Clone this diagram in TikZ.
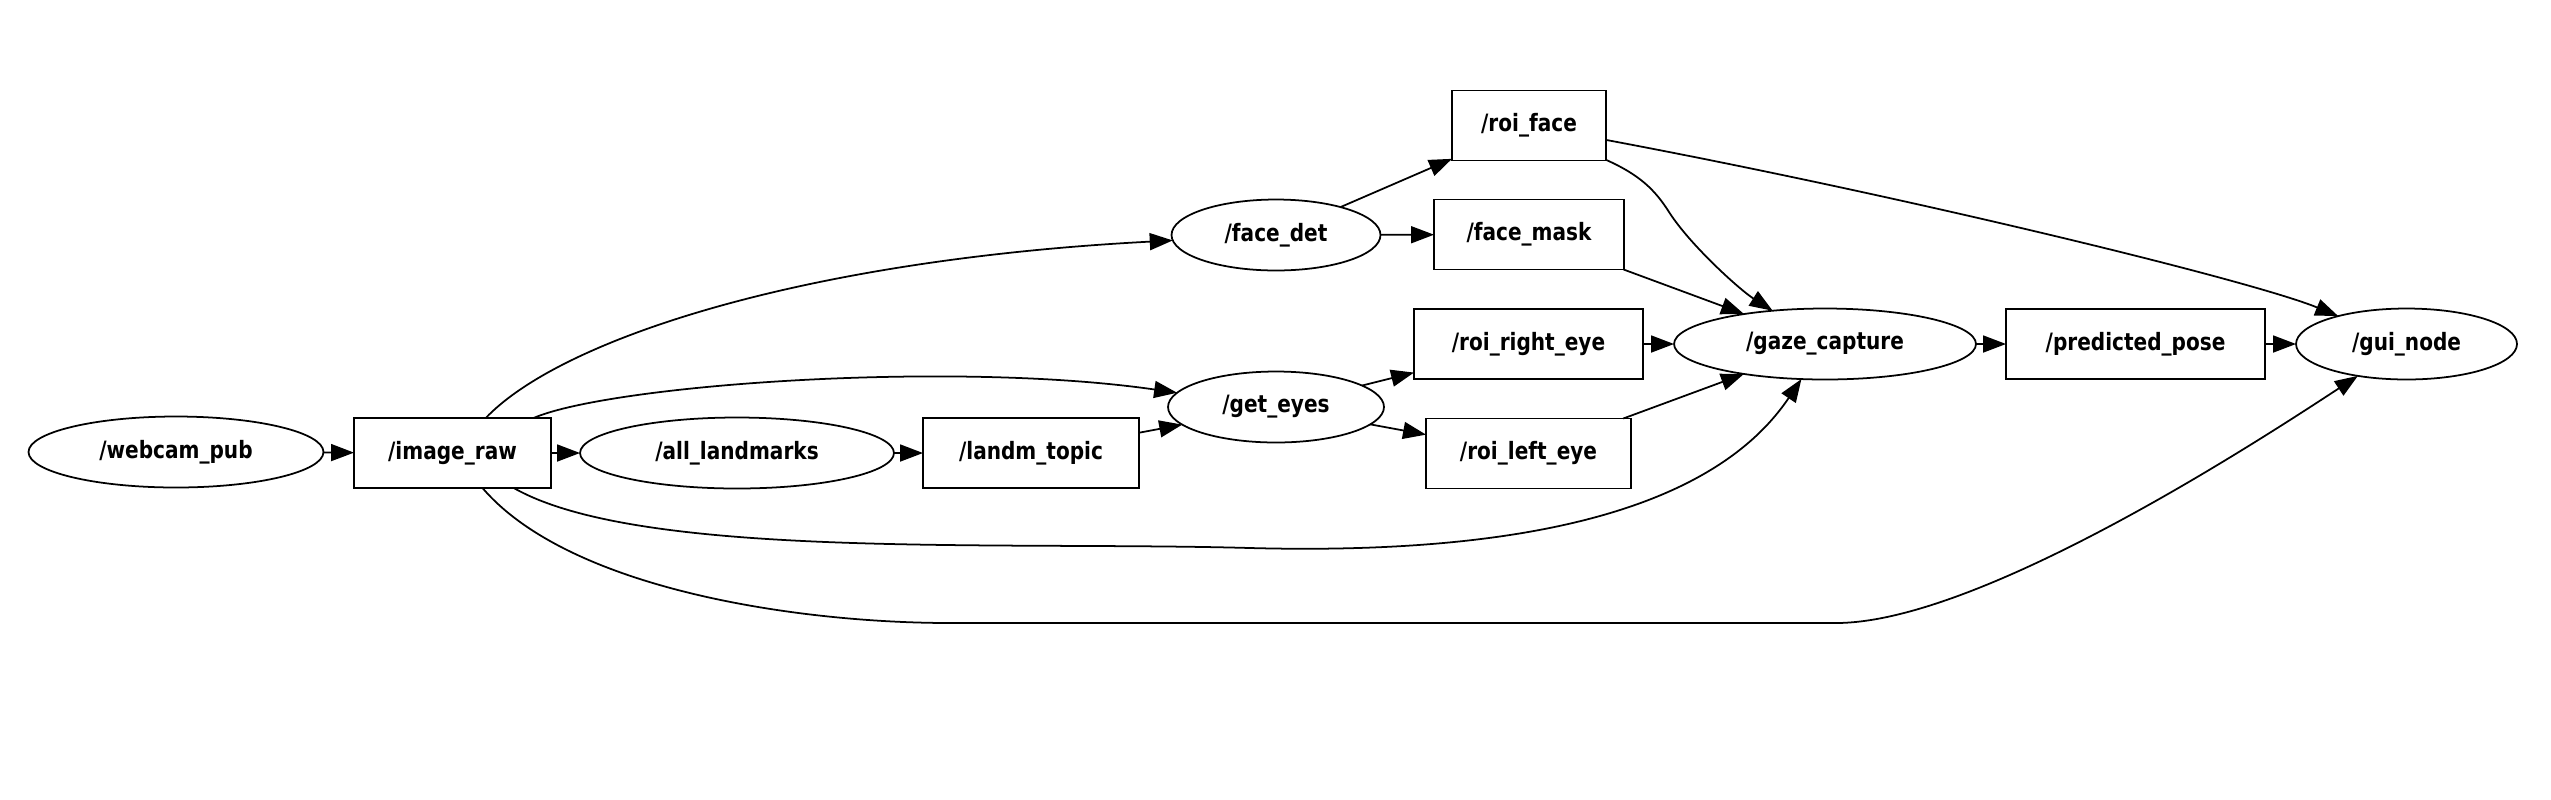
\documentclass[tikz,border=0pt]{standalone}
\usepackage{fontspec}
\setmainfont{DejaVu Sans}[FakeStretch=0.84]
\usepackage{tikz}
\usetikzlibrary{arrows.meta, positioning, shapes.geometric}

\begin{document}
\begin{tikzpicture}[
    x=0.02cm, y=-0.02cm,
    line width=1pt,
    rosnode/.style={draw, ellipse, inner sep=0pt, outer sep=0pt, minimum height=1.42cm, font=\fontsize{13.6}{16}\selectfont\bfseries},
    topic/.style={draw, rectangle, inner sep=0pt, outer sep=0pt, minimum height=1.4cm, font=\fontsize{13.6}{16}\selectfont\bfseries},
    >={Triangle[length=4.6mm, width=3.4mm]}
]
    \useasboundingbox (0,0) rectangle (2551,799);

    \node[rosnode, minimum width=5.9cm] (webcam) at (176,452) {/webcam\_pub};
    \node[topic, minimum width=3.94cm] (img) at (452.5,453) {/image\_raw};
    \node[rosnode, minimum width=6.28cm] (lmk) at (737,453) {/all\_landmarks};
    \node[topic, minimum width=4.32cm] (landm) at (1031,453) {/landm\_topic};
    \node[rosnode, minimum width=4.32cm] (eyes) at (1276,407) {/get\_eyes};
    \node[rosnode, minimum width=4.18cm] (facedet) at (1276,235) {/face\_det};
    \node[topic, minimum width=3.08cm] (roiface) at (1529,125.5) {/roi\_face};
    \node[topic, minimum width=3.8cm] (mask) at (1529,234.5) {/face\_mask};
    \node[topic, minimum width=4.58cm] (reye) at (1528.5,344) {/roi\_right\_eye};
    \node[topic, minimum width=4.1cm] (leye) at (1528.5,453.5) {/roi\_left\_eye};
    \node[rosnode, minimum width=6.04cm] (gaze) at (1825,344) {/gaze\_capture};
    \node[topic, minimum width=5.18cm] (pose) at (2135.5,344) {/predicted\_pose};
    \node[rosnode, minimum width=4.42cm] (gui) at (2406.5,344) {/gui\_node};

    \draw[->] (webcam) -- (img);
    \draw[->] (img) -- (lmk);
    \draw[->] (lmk) -- (landm);
    \draw[->] (landm) -- (eyes);
    \draw[->] (img) .. controls (560,340) and (800,260) .. (facedet);
    \draw[->] (img) .. controls (610,385) and (950,360) .. (eyes);
    \draw[->] (img) .. controls (640,560) and (1000,541) .. (1250,548) .. controls (1550,556) and (1720,500) .. (gaze);
    \draw[->] (img) .. controls (570,590) and (800,623) .. (950,623) -- (1836,623) .. controls (1980,623) and (2260,440) .. (gui);
    \draw[->] (facedet) -- (roiface);
    \draw[->] (facedet) -- (mask);
    \draw[->] (roiface) .. controls (1640,175) and (1655,190) .. (1669,212) .. controls (1690,245) and (1740,290) .. (gaze);
    \draw[->] (roiface) .. controls (1900,195) and (2250,280) .. (gui);
    \draw[->] (mask) -- (gaze);
    \draw[->] (eyes) -- (reye);
    \draw[->] (eyes) -- (leye);
    \draw[->] (reye) -- (gaze);
    \draw[->] (leye) -- (gaze);
    \draw[->] (gaze) -- (pose);
    \draw[->] (pose) -- (gui);
\end{tikzpicture}
\end{document}
